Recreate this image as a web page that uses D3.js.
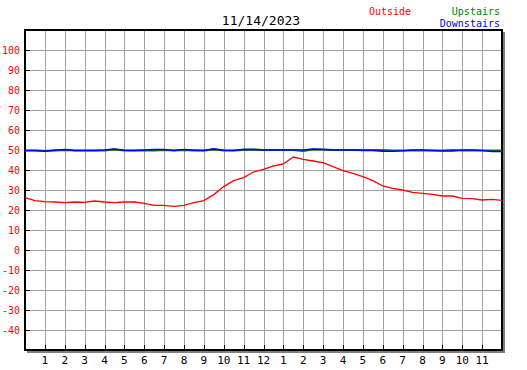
<!DOCTYPE html>
<html>
<head>
<meta charset="utf-8">
<script src="https://cdn.jsdelivr.net/npm/d3@7"></script>
<style>
  body { margin: 0; background: #fff; }
  text { font-family: "DejaVu Sans Mono", monospace; }
  .grid { stroke: #a0a0a0; stroke-width: 1; shape-rendering: crispEdges; }
</style>
</head>
<body>
<div id="chart"></div>
<script>

var title = '11/14/2023'

// readings every half hour, midnight to midnight
var hours = d3.range(0, 24.01, 0.5)

var outside = [26.2, 24.7, 24.2, 24, 23.7, 24, 23.8, 24.5, 24, 23.7, 24, 24, 23.3,
  22.3, 22.3, 21.8, 22.3, 23.7, 24.7, 27.7, 31.7, 34.7, 36.2, 39, 40.3,
  42, 43, 46.5, 45.3, 44.5, 43.7, 41.7, 39.7, 38.3, 36.7, 34.7, 32,
  30.8, 30, 28.8, 28.3, 27.8, 27, 27, 25.8, 25.7, 25, 25.3, 24.8]

var upstairs = [49.7, 49.7, 49.6, 49.8, 50, 49.8, 49.7, 49.7, 49.8, 50.3, 49.8, 49.7, 49.8,
  49.8, 50, 49.8, 50, 49.8, 49.8, 50.2, 49.7, 49.7, 50, 50.2, 50,
  50, 50, 50, 49.5, 50.3, 50.3, 50, 50, 50, 50, 50, 50,
  49.8, 49.8, 49.7, 49.7, 49.8, 49.8, 50, 49.8, 49.8, 49.7, 49.7, 49.7]

var downstairs = [49.7, 49.7, 49.4, 49.9, 50.3, 49.8, 49.7, 49.7, 50, 50.5, 49.9, 49.7, 50,
  50.2, 50.3, 49.8, 50.2, 49.9, 49.7, 50.6, 49.9, 49.8, 50.4, 50.2, 50,
  50, 50, 50, 50, 50.5, 50.3, 50, 50, 50, 49.8, 49.8, 49.4,
  49.4, 49.6, 50, 50, 49.8, 49.5, 49.5, 50, 50, 49.7, 49.2, 49.2]

var yTicks = [100, 90, 80, 70, 60, 50, 40, 30, 20, 10, 0, -10, -20, -30, -40]
var hourTicks = d3.range(1, 24)
var hourLabels = ['1','2','3','4','5','6','7','8','9','10','11','12',
  '1','2','3','4','5','6','7','8','9','10','11']

var width = 527
var height = 370

var svg = d3.select('#chart')
  .append('svg')
  .attr('width', width)
  .attr('height', height)

var x = d3.scaleLinear().domain([0, 24]).range([25, 502])
var y = d3.scaleLinear().domain([-50, 110]).range([350, 30])

function px(v) { return Math.round(v) + 0.5 }

// shadow + frame
svg.append('rect')
  .attr('x', 27).attr('y', 32)
  .attr('width', 478).attr('height', 321)
  .attr('fill', '#808080')
svg.append('rect')
  .attr('x', 25).attr('y', 30)
  .attr('width', 477).attr('height', 320)
  .attr('fill', '#fff')

svg.selectAll('.vgrid')
  .data(hourTicks)
  .enter().append('line')
  .attr('class', 'grid')
  .attr('x1', d => px(x(d))).attr('x2', d => px(x(d)))
  .attr('y1', 30).attr('y2', 350)

svg.selectAll('.hgrid')
  .data(yTicks)
  .enter().append('line')
  .attr('class', 'grid')
  .attr('x1', 25).attr('x2', 502)
  .attr('y1', d => px(y(d))).attr('y2', d => px(y(d)))

svg.append('rect')
  .attr('x', 25).attr('y', 30)
  .attr('width', 477).attr('height', 320)
  .attr('fill', 'none')
  .attr('stroke', '#000')
  .attr('stroke-width', 2)

// tick marks
svg.selectAll('.ytick')
  .data(yTicks)
  .enter().append('line')
  .attr('x1', 25).attr('x2', 30)
  .attr('y1', d => px(y(d))).attr('y2', d => px(y(d)))
  .attr('stroke', '#000')
  .attr('shape-rendering', 'crispEdges')

svg.selectAll('.xtick')
  .data(hourTicks)
  .enter().append('line')
  .attr('x1', d => px(x(d))).attr('x2', d => px(x(d)))
  .attr('y1', 350).attr('y2', 345)
  .attr('stroke', '#000')
  .attr('shape-rendering', 'crispEdges')

svg.selectAll('.ylabel')
  .data(yTicks)
  .enter().append('text')
  .attr('x', 20)
  .attr('y', d => y(d) + 4)
  .attr('text-anchor', 'end')
  .attr('font-size', 10)
  .attr('fill', '#f00')
  .text(d => d)

svg.selectAll('.xlabel')
  .data(hourTicks)
  .enter().append('text')
  .attr('x', d => x(d))
  .attr('y', 364)
  .attr('text-anchor', 'middle')
  .attr('font-size', 11)
  .attr('fill', '#000')
  .text((d, i) => hourLabels[i])

// lines
var line = d3.line()
  .x((d, i) => x(hours[i]))
  .y(d => y(d))

svg.append('path')
  .datum(upstairs)
  .attr('d', line)
  .attr('fill', 'none')
  .attr('stroke', '#008000')
  .attr('stroke-width', 2)

svg.append('path')
  .datum(downstairs)
  .attr('d', line)
  .attr('fill', 'none')
  .attr('stroke', '#0000ff')
  .attr('stroke-width', 1.5)

svg.append('path')
  .datum(outside)
  .attr('d', line)
  .attr('fill', 'none')
  .attr('stroke', '#ff0000')
  .attr('stroke-width', 1.3)

// title and legend
svg.append('text')
  .attr('x', 261).attr('y', 25)
  .attr('text-anchor', 'middle')
  .attr('font-size', 13)
  .attr('fill', '#000')
  .text(title)

svg.append('text')
  .attr('x', 369).attr('y', 15)
  .attr('font-size', 10)
  .attr('fill', '#f00')
  .text('Outside')

svg.append('text')
  .attr('x', 500).attr('y', 15)
  .attr('text-anchor', 'end')
  .attr('font-size', 10)
  .attr('fill', '#008000')
  .text('Upstairs')

svg.append('text')
  .attr('x', 500).attr('y', 27)
  .attr('text-anchor', 'end')
  .attr('font-size', 10)
  .attr('fill', '#0000ff')
  .text('Downstairs')

</script>
</body>
</html>
